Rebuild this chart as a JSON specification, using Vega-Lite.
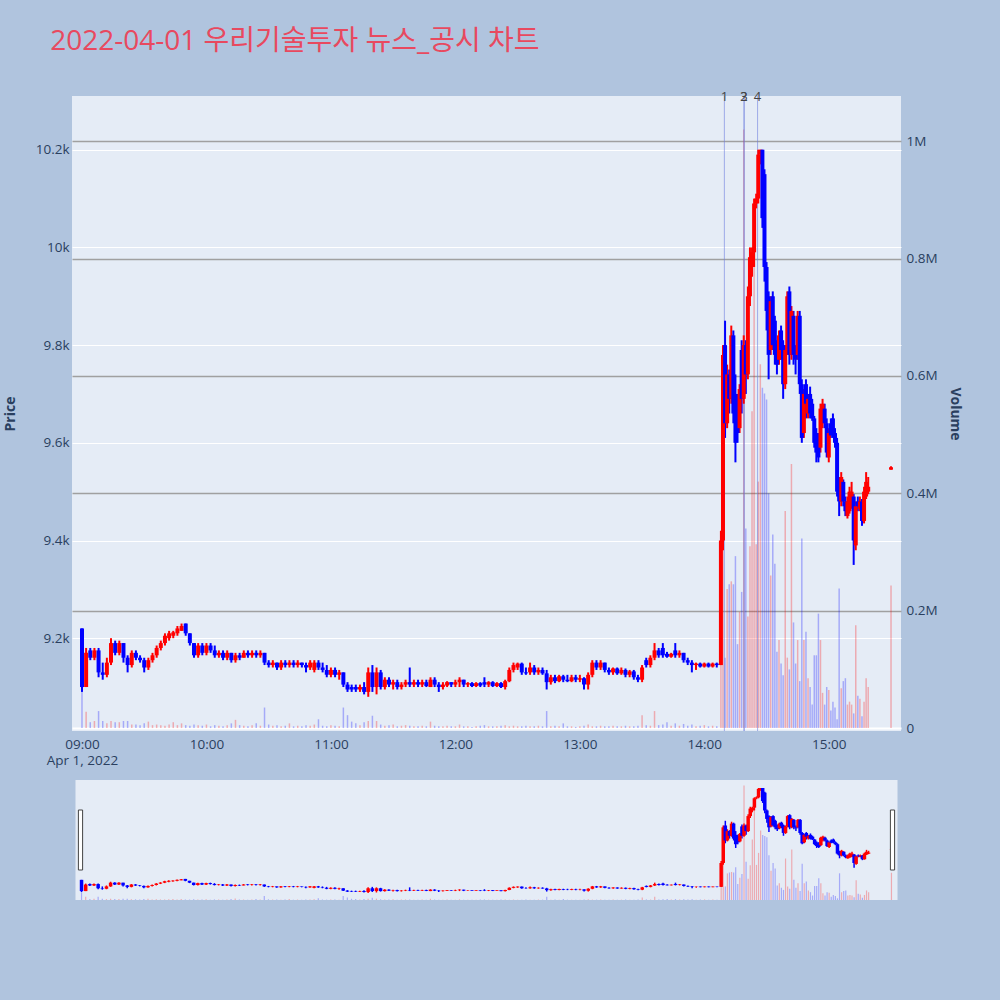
{
  "$schema": "https://vega.github.io/schema/vega-lite/v6.json",
  "background": "#b0c4de",
  "padding": {"left": 3, "top": 28, "right": 40, "bottom": 100},
  "title": {
    "text": "2022-04-01 우리기술투자 뉴스_공시 차트",
    "anchor": "start",
    "fontSize": 28,
    "fontWeight": "normal",
    "color": "#E8495F",
    "font": "Open Sans, Noto Sans CJK KR",
    "offset": 35,
    "dx": 47
  },
  "config": {
    "font": "Open Sans",
    "view": {"fill": "#e5ecf6", "stroke": null},
    "axis": {
      "labelColor": "#2a3f5f",
      "titleColor": "#2a3f5f",
      "labelFontSize": 13.5,
      "titleFontSize": 14,
      "titleFontWeight": "bold",
      "ticks": false,
      "domain": false,
      "labelFont": "Open Sans",
      "titleFont": "Open Sans"
    }
  },
  "datasets": {
    "c": [
      {"t":"2022-04-01T09:00","o":9220,"h":9220,"l":9090,"c":9100,"v":70000},
      {"t":"2022-04-01T09:02","o":9100,"h":9180,"l":9100,"c":9170,"v":28000},
      {"t":"2022-04-01T09:04","o":9175,"h":9180,"l":9155,"c":9160,"v":10000},
      {"t":"2022-04-01T09:06","o":9160,"h":9180,"l":9155,"c":9175,"v":12000},
      {"t":"2022-04-01T09:08","o":9175,"h":9180,"l":9120,"c":9130,"v":29000},
      {"t":"2022-04-01T09:10","o":9130,"h":9150,"l":9115,"c":9125,"v":12000},
      {"t":"2022-04-01T09:12","o":9125,"h":9160,"l":9120,"c":9150,"v":8000},
      {"t":"2022-04-01T09:14","o":9150,"h":9200,"l":9145,"c":9190,"v":12000},
      {"t":"2022-04-01T09:16","o":9190,"h":9195,"l":9165,"c":9170,"v":10000},
      {"t":"2022-04-01T09:18","o":9170,"h":9195,"l":9165,"c":9190,"v":10000},
      {"t":"2022-04-01T09:20","o":9190,"h":9190,"l":9150,"c":9160,"v":12000},
      {"t":"2022-04-01T09:22","o":9160,"h":9165,"l":9130,"c":9145,"v":12000},
      {"t":"2022-04-01T09:24","o":9145,"h":9175,"l":9140,"c":9170,"v":6000},
      {"t":"2022-04-01T09:26","o":9170,"h":9175,"l":9155,"c":9160,"v":6000},
      {"t":"2022-04-01T09:28","o":9160,"h":9165,"l":9150,"c":9155,"v":5000},
      {"t":"2022-04-01T09:30","o":9155,"h":9160,"l":9130,"c":9140,"v":8000},
      {"t":"2022-04-01T09:32","o":9140,"h":9160,"l":9135,"c":9155,"v":11000},
      {"t":"2022-04-01T09:34","o":9155,"h":9170,"l":9150,"c":9165,"v":5000},
      {"t":"2022-04-01T09:36","o":9165,"h":9185,"l":9160,"c":9180,"v":6000},
      {"t":"2022-04-01T09:38","o":9180,"h":9195,"l":9175,"c":9190,"v":5000},
      {"t":"2022-04-01T09:40","o":9190,"h":9210,"l":9185,"c":9205,"v":4000},
      {"t":"2022-04-01T09:42","o":9200,"h":9215,"l":9195,"c":9210,"v":6000},
      {"t":"2022-04-01T09:44","o":9205,"h":9215,"l":9200,"c":9212,"v":10000},
      {"t":"2022-04-01T09:46","o":9210,"h":9225,"l":9205,"c":9220,"v":5000},
      {"t":"2022-04-01T09:48","o":9215,"h":9230,"l":9215,"c":9225,"v":8000},
      {"t":"2022-04-01T09:50","o":9230,"h":9230,"l":9205,"c":9210,"v":5000},
      {"t":"2022-04-01T09:52","o":9210,"h":9210,"l":9185,"c":9190,"v":4000},
      {"t":"2022-04-01T09:54","o":9190,"h":9190,"l":9160,"c":9165,"v":6000},
      {"t":"2022-04-01T09:56","o":9165,"h":9190,"l":9160,"c":9185,"v":5000},
      {"t":"2022-04-01T09:58","o":9185,"h":9190,"l":9165,"c":9170,"v":4000},
      {"t":"2022-04-01T10:00","o":9170,"h":9190,"l":9165,"c":9185,"v":6000},
      {"t":"2022-04-01T10:02","o":9185,"h":9190,"l":9170,"c":9175,"v":3000},
      {"t":"2022-04-01T10:04","o":9175,"h":9185,"l":9160,"c":9165,"v":5000},
      {"t":"2022-04-01T10:06","o":9165,"h":9175,"l":9160,"c":9170,"v":4000},
      {"t":"2022-04-01T10:08","o":9170,"h":9175,"l":9155,"c":9160,"v":3000},
      {"t":"2022-04-01T10:10","o":9160,"h":9175,"l":9155,"c":9170,"v":5000},
      {"t":"2022-04-01T10:12","o":9170,"h":9170,"l":9150,"c":9155,"v":8000},
      {"t":"2022-04-01T10:14","o":9155,"h":9170,"l":9150,"c":9165,"v":14000},
      {"t":"2022-04-01T10:16","o":9165,"h":9170,"l":9155,"c":9160,"v":5000},
      {"t":"2022-04-01T10:18","o":9160,"h":9175,"l":9160,"c":9170,"v":4000},
      {"t":"2022-04-01T10:20","o":9170,"h":9175,"l":9160,"c":9165,"v":3000},
      {"t":"2022-04-01T10:22","o":9165,"h":9175,"l":9160,"c":9170,"v":5000},
      {"t":"2022-04-01T10:24","o":9170,"h":9175,"l":9160,"c":9165,"v":8000},
      {"t":"2022-04-01T10:26","o":9165,"h":9175,"l":9160,"c":9170,"v":4000},
      {"t":"2022-04-01T10:28","o":9170,"h":9170,"l":9145,"c":9150,"v":35000},
      {"t":"2022-04-01T10:30","o":9150,"h":9155,"l":9140,"c":9145,"v":6000},
      {"t":"2022-04-01T10:32","o":9145,"h":9155,"l":9140,"c":9150,"v":4000},
      {"t":"2022-04-01T10:34","o":9150,"h":9150,"l":9135,"c":9140,"v":5000},
      {"t":"2022-04-01T10:36","o":9140,"h":9155,"l":9135,"c":9150,"v":3000},
      {"t":"2022-04-01T10:38","o":9150,"h":9155,"l":9140,"c":9145,"v":4000},
      {"t":"2022-04-01T10:40","o":9145,"h":9155,"l":9140,"c":9150,"v":8000},
      {"t":"2022-04-01T10:42","o":9150,"h":9155,"l":9140,"c":9145,"v":3000},
      {"t":"2022-04-01T10:44","o":9145,"h":9155,"l":9140,"c":9150,"v":4000},
      {"t":"2022-04-01T10:46","o":9150,"h":9150,"l":9140,"c":9145,"v":3000},
      {"t":"2022-04-01T10:48","o":9145,"h":9150,"l":9130,"c":9140,"v":5000},
      {"t":"2022-04-01T10:50","o":9140,"h":9155,"l":9135,"c":9150,"v":4000},
      {"t":"2022-04-01T10:52","o":9135,"h":9155,"l":9130,"c":9150,"v":6000},
      {"t":"2022-04-01T10:54","o":9150,"h":9155,"l":9135,"c":9140,"v":15000},
      {"t":"2022-04-01T10:56","o":9140,"h":9150,"l":9130,"c":9135,"v":4000},
      {"t":"2022-04-01T10:58","o":9135,"h":9145,"l":9120,"c":9125,"v":3000},
      {"t":"2022-04-01T11:00","o":9125,"h":9140,"l":9120,"c":9135,"v":5000},
      {"t":"2022-04-01T11:02","o":9135,"h":9140,"l":9120,"c":9125,"v":4000},
      {"t":"2022-04-01T11:04","o":9125,"h":9135,"l":9115,"c":9130,"v":3000},
      {"t":"2022-04-01T11:06","o":9130,"h":9130,"l":9100,"c":9105,"v":35000},
      {"t":"2022-04-01T11:08","o":9105,"h":9110,"l":9090,"c":9095,"v":22000},
      {"t":"2022-04-01T11:10","o":9100,"h":9105,"l":9090,"c":9095,"v":11000},
      {"t":"2022-04-01T11:12","o":9100,"h":9105,"l":9090,"c":9095,"v":8000},
      {"t":"2022-04-01T11:14","o":9095,"h":9105,"l":9090,"c":9100,"v":5000},
      {"t":"2022-04-01T11:16","o":9100,"h":9110,"l":9085,"c":9090,"v":10000},
      {"t":"2022-04-01T11:18","o":9090,"h":9140,"l":9080,"c":9130,"v":12000},
      {"t":"2022-04-01T11:20","o":9130,"h":9145,"l":9090,"c":9100,"v":21000},
      {"t":"2022-04-01T11:22","o":9100,"h":9140,"l":9085,"c":9130,"v":12000},
      {"t":"2022-04-01T11:24","o":9130,"h":9135,"l":9095,"c":9100,"v":6000},
      {"t":"2022-04-01T11:26","o":9100,"h":9120,"l":9095,"c":9115,"v":4000},
      {"t":"2022-04-01T11:28","o":9115,"h":9120,"l":9100,"c":9105,"v":5000},
      {"t":"2022-04-01T11:30","o":9105,"h":9115,"l":9095,"c":9110,"v":6000},
      {"t":"2022-04-01T11:32","o":9110,"h":9115,"l":9095,"c":9100,"v":3000},
      {"t":"2022-04-01T11:34","o":9100,"h":9110,"l":9095,"c":9105,"v":4000},
      {"t":"2022-04-01T11:36","o":9105,"h":9115,"l":9100,"c":9110,"v":5000},
      {"t":"2022-04-01T11:38","o":9110,"h":9140,"l":9100,"c":9105,"v":4000},
      {"t":"2022-04-01T11:40","o":9105,"h":9115,"l":9100,"c":9110,"v":3000},
      {"t":"2022-04-01T11:42","o":9110,"h":9115,"l":9100,"c":9105,"v":3000},
      {"t":"2022-04-01T11:44","o":9105,"h":9115,"l":9100,"c":9110,"v":4000},
      {"t":"2022-04-01T11:46","o":9110,"h":9115,"l":9100,"c":9102,"v":3000},
      {"t":"2022-04-01T11:48","o":9100,"h":9120,"l":9100,"c":9115,"v":11000},
      {"t":"2022-04-01T11:50","o":9115,"h":9120,"l":9100,"c":9105,"v":4000},
      {"t":"2022-04-01T11:52","o":9105,"h":9110,"l":9090,"c":9100,"v":3000},
      {"t":"2022-04-01T11:54","o":9100,"h":9110,"l":9095,"c":9105,"v":3000},
      {"t":"2022-04-01T11:56","o":9103,"h":9112,"l":9100,"c":9110,"v":4000},
      {"t":"2022-04-01T11:58","o":9110,"h":9110,"l":9100,"c":9105,"v":3000},
      {"t":"2022-04-01T12:00","o":9105,"h":9115,"l":9100,"c":9110,"v":3000},
      {"t":"2022-04-01T12:02","o":9110,"h":9120,"l":9100,"c":9115,"v":6000},
      {"t":"2022-04-01T12:04","o":9115,"h":9115,"l":9100,"c":9105,"v":3000},
      {"t":"2022-04-01T12:06","o":9105,"h":9110,"l":9100,"c":9108,"v":3000},
      {"t":"2022-04-01T12:08","o":9108,"h":9110,"l":9100,"c":9102,"v":2000},
      {"t":"2022-04-01T12:10","o":9102,"h":9110,"l":9100,"c":9108,"v":3000},
      {"t":"2022-04-01T12:12","o":9108,"h":9110,"l":9100,"c":9103,"v":4000},
      {"t":"2022-04-01T12:14","o":9110,"h":9120,"l":9100,"c":9105,"v":5000},
      {"t":"2022-04-01T12:16","o":9105,"h":9112,"l":9100,"c":9110,"v":3000},
      {"t":"2022-04-01T12:18","o":9110,"h":9112,"l":9100,"c":9102,"v":3000},
      {"t":"2022-04-01T12:20","o":9102,"h":9110,"l":9100,"c":9108,"v":3000},
      {"t":"2022-04-01T12:22","o":9108,"h":9110,"l":9098,"c":9100,"v":4000},
      {"t":"2022-04-01T12:24","o":9100,"h":9115,"l":9095,"c":9112,"v":5000},
      {"t":"2022-04-01T12:26","o":9112,"h":9140,"l":9110,"c":9135,"v":3000},
      {"t":"2022-04-01T12:28","o":9135,"h":9150,"l":9130,"c":9145,"v":4000},
      {"t":"2022-04-01T12:30","o":9140,"h":9150,"l":9135,"c":9148,"v":3000},
      {"t":"2022-04-01T12:32","o":9148,"h":9150,"l":9125,"c":9130,"v":3000},
      {"t":"2022-04-01T12:34","o":9130,"h":9140,"l":9125,"c":9128,"v":4000},
      {"t":"2022-04-01T12:36","o":9130,"h":9150,"l":9125,"c":9140,"v":3000},
      {"t":"2022-04-01T12:38","o":9140,"h":9145,"l":9125,"c":9130,"v":3000},
      {"t":"2022-04-01T12:40","o":9130,"h":9140,"l":9125,"c":9135,"v":4000},
      {"t":"2022-04-01T12:42","o":9135,"h":9140,"l":9125,"c":9128,"v":3000},
      {"t":"2022-04-01T12:44","o":9128,"h":9135,"l":9095,"c":9110,"v":29000},
      {"t":"2022-04-01T12:46","o":9110,"h":9125,"l":9105,"c":9120,"v":3000},
      {"t":"2022-04-01T12:48","o":9120,"h":9125,"l":9108,"c":9112,"v":4000},
      {"t":"2022-04-01T12:50","o":9112,"h":9125,"l":9110,"c":9122,"v":3000},
      {"t":"2022-04-01T12:52","o":9122,"h":9125,"l":9110,"c":9115,"v":8000},
      {"t":"2022-04-01T12:54","o":9115,"h":9125,"l":9110,"c":9112,"v":3000},
      {"t":"2022-04-01T12:56","o":9112,"h":9125,"l":9110,"c":9120,"v":3000},
      {"t":"2022-04-01T12:58","o":9120,"h":9125,"l":9110,"c":9115,"v":2000},
      {"t":"2022-04-01T13:00","o":9115,"h":9125,"l":9110,"c":9118,"v":3000},
      {"t":"2022-04-01T13:02","o":9118,"h":9120,"l":9095,"c":9105,"v":4000},
      {"t":"2022-04-01T13:04","o":9105,"h":9130,"l":9095,"c":9125,"v":6000},
      {"t":"2022-04-01T13:06","o":9125,"h":9155,"l":9120,"c":9150,"v":3000},
      {"t":"2022-04-01T13:08","o":9150,"h":9155,"l":9135,"c":9140,"v":3000},
      {"t":"2022-04-01T13:10","o":9140,"h":9155,"l":9135,"c":9150,"v":4000},
      {"t":"2022-04-01T13:12","o":9150,"h":9150,"l":9130,"c":9135,"v":3000},
      {"t":"2022-04-01T13:14","o":9135,"h":9140,"l":9125,"c":9130,"v":3000},
      {"t":"2022-04-01T13:16","o":9130,"h":9140,"l":9125,"c":9138,"v":4000},
      {"t":"2022-04-01T13:18","o":9138,"h":9140,"l":9125,"c":9128,"v":3000},
      {"t":"2022-04-01T13:20","o":9128,"h":9140,"l":9125,"c":9135,"v":3000},
      {"t":"2022-04-01T13:22","o":9135,"h":9138,"l":9120,"c":9125,"v":4000},
      {"t":"2022-04-01T13:24","o":9125,"h":9135,"l":9120,"c":9132,"v":3000},
      {"t":"2022-04-01T13:26","o":9132,"h":9135,"l":9115,"c":9120,"v":3000},
      {"t":"2022-04-01T13:28","o":9120,"h":9125,"l":9110,"c":9115,"v":4000},
      {"t":"2022-04-01T13:30","o":9115,"h":9145,"l":9110,"c":9140,"v":22000},
      {"t":"2022-04-01T13:32","o":9155,"h":9160,"l":9140,"c":9145,"v":5000},
      {"t":"2022-04-01T13:34","o":9145,"h":9165,"l":9140,"c":9160,"v":4000},
      {"t":"2022-04-01T13:36","o":9160,"h":9190,"l":9155,"c":9175,"v":29000},
      {"t":"2022-04-01T13:38","o":9175,"h":9180,"l":9160,"c":9165,"v":5000},
      {"t":"2022-04-01T13:40","o":9180,"h":9190,"l":9160,"c":9165,"v":6000},
      {"t":"2022-04-01T13:42","o":9168,"h":9172,"l":9160,"c":9162,"v":10000},
      {"t":"2022-04-01T13:44","o":9162,"h":9170,"l":9160,"c":9168,"v":4000},
      {"t":"2022-04-01T13:46","o":9175,"h":9190,"l":9160,"c":9165,"v":8000},
      {"t":"2022-04-01T13:48","o":9165,"h":9175,"l":9160,"c":9170,"v":4000},
      {"t":"2022-04-01T13:50","o":9170,"h":9170,"l":9150,"c":9155,"v":7000},
      {"t":"2022-04-01T13:52","o":9155,"h":9160,"l":9145,"c":9150,"v":4000},
      {"t":"2022-04-01T13:54","o":9150,"h":9155,"l":9130,"c":9145,"v":6000},
      {"t":"2022-04-01T13:56","o":9145,"h":9150,"l":9135,"c":9148,"v":3000},
      {"t":"2022-04-01T13:58","o":9148,"h":9150,"l":9140,"c":9142,"v":4000},
      {"t":"2022-04-01T14:00","o":9142,"h":9150,"l":9140,"c":9148,"v":5000},
      {"t":"2022-04-01T14:02","o":9148,"h":9150,"l":9140,"c":9142,"v":3000},
      {"t":"2022-04-01T14:04","o":9142,"h":9150,"l":9140,"c":9148,"v":4000},
      {"t":"2022-04-01T14:06","o":9148,"h":9150,"l":9140,"c":9145,"v":3000},
      {"t":"2022-04-01T14:08","o":9145,"h":9420,"l":9145,"c":9400,"v":300000},
      {"t":"2022-04-01T14:09","o":9400,"h":9800,"l":9380,"c":9780,"v":460000},
      {"t":"2022-04-01T14:10","o":9800,"h":9850,"l":9610,"c":9640,"v":120000},
      {"t":"2022-04-01T14:11","o":9640,"h":9760,"l":9630,"c":9740,"v":237000},
      {"t":"2022-04-01T14:12","o":9740,"h":9750,"l":9660,"c":9690,"v":245000},
      {"t":"2022-04-01T14:13","o":9690,"h":9840,"l":9680,"c":9820,"v":250000},
      {"t":"2022-04-01T14:14","o":9820,"h":9830,"l":9640,"c":9660,"v":245000},
      {"t":"2022-04-01T14:15","o":9700,"h":9740,"l":9560,"c":9600,"v":293000},
      {"t":"2022-04-01T14:16","o":9690,"h":9700,"l":9600,"c":9620,"v":143000},
      {"t":"2022-04-01T14:17","o":9630,"h":9720,"l":9620,"c":9710,"v":198000},
      {"t":"2022-04-01T14:18","o":9790,"h":9810,"l":9660,"c":9690,"v":232000},
      {"t":"2022-04-01T14:19","o":9690,"h":9820,"l":9680,"c":9800,"v":1020000},
      {"t":"2022-04-01T14:20","o":9800,"h":9810,"l":9700,"c":9740,"v":340000},
      {"t":"2022-04-01T14:21","o":9740,"h":9920,"l":9730,"c":9900,"v":190000},
      {"t":"2022-04-01T14:22","o":9900,"h":10000,"l":9880,"c":9980,"v":310000},
      {"t":"2022-04-01T14:23","o":9960,"h":10000,"l":9940,"c":9990,"v":540000},
      {"t":"2022-04-01T14:24","o":9990,"h":10100,"l":9960,"c":10090,"v":800000},
      {"t":"2022-04-01T14:25","o":10090,"h":10110,"l":10080,"c":10100,"v":313000},
      {"t":"2022-04-01T14:26","o":10100,"h":10200,"l":10090,"c":10190,"v":420000},
      {"t":"2022-04-01T14:27","o":10190,"h":10200,"l":10170,"c":10200,"v":620000},
      {"t":"2022-04-01T14:28","o":10200,"h":10200,"l":10040,"c":10060,"v":580000},
      {"t":"2022-04-01T14:29","o":10150,"h":10160,"l":9930,"c":9960,"v":570000},
      {"t":"2022-04-01T14:30","o":9960,"h":9970,"l":9830,"c":9870,"v":560000},
      {"t":"2022-04-01T14:31","o":9900,"h":9910,"l":9730,"c":9780,"v":400000},
      {"t":"2022-04-01T14:32","o":9790,"h":9900,"l":9780,"c":9890,"v":260000},
      {"t":"2022-04-01T14:33","o":9900,"h":9910,"l":9790,"c":9800,"v":330000},
      {"t":"2022-04-01T14:34","o":9850,"h":9860,"l":9760,"c":9780,"v":280000},
      {"t":"2022-04-01T14:35","o":9800,"h":9810,"l":9740,"c":9760,"v":130000},
      {"t":"2022-04-01T14:36","o":9770,"h":9830,"l":9760,"c":9820,"v":150000},
      {"t":"2022-04-01T14:37","o":9830,"h":9840,"l":9770,"c":9790,"v":110000},
      {"t":"2022-04-01T14:38","o":9800,"h":9810,"l":9690,"c":9720,"v":90000},
      {"t":"2022-04-01T14:39","o":9720,"h":9800,"l":9710,"c":9790,"v":370000},
      {"t":"2022-04-01T14:40","o":9790,"h":9910,"l":9780,"c":9900,"v":120000},
      {"t":"2022-04-01T14:41","o":9910,"h":9920,"l":9760,"c":9780,"v":100000},
      {"t":"2022-04-01T14:42","o":9780,"h":9880,"l":9770,"c":9870,"v":450000},
      {"t":"2022-04-01T14:43","o":9860,"h":9870,"l":9760,"c":9780,"v":180000},
      {"t":"2022-04-01T14:44","o":9780,"h":9800,"l":9740,"c":9770,"v":110000},
      {"t":"2022-04-01T14:45","o":9780,"h":9870,"l":9770,"c":9860,"v":150000},
      {"t":"2022-04-01T14:46","o":9860,"h":9870,"l":9700,"c":9720,"v":80000},
      {"t":"2022-04-01T14:47","o":9720,"h":9730,"l":9600,"c":9610,"v":323000},
      {"t":"2022-04-01T14:48","o":9620,"h":9710,"l":9610,"c":9700,"v":150000},
      {"t":"2022-04-01T14:49","o":9720,"h":9730,"l":9650,"c":9680,"v":164000},
      {"t":"2022-04-01T14:50","o":9660,"h":9700,"l":9650,"c":9690,"v":85000},
      {"t":"2022-04-01T14:51","o":9700,"h":9715,"l":9650,"c":9660,"v":70000},
      {"t":"2022-04-01T14:52","o":9680,"h":9690,"l":9645,"c":9650,"v":40000},
      {"t":"2022-04-01T14:53","o":9650,"h":9655,"l":9590,"c":9600,"v":124000},
      {"t":"2022-04-01T14:54","o":9620,"h":9630,"l":9560,"c":9580,"v":124000},
      {"t":"2022-04-01T14:55","o":9600,"h":9620,"l":9560,"c":9570,"v":195000},
      {"t":"2022-04-01T14:56","o":9590,"h":9680,"l":9580,"c":9670,"v":150000},
      {"t":"2022-04-01T14:57","o":9640,"h":9690,"l":9630,"c":9680,"v":60000},
      {"t":"2022-04-01T14:58","o":9670,"h":9680,"l":9630,"c":9640,"v":40000},
      {"t":"2022-04-01T14:59","o":9640,"h":9650,"l":9570,"c":9580,"v":70000},
      {"t":"2022-04-01T15:00","o":9570,"h":9630,"l":9560,"c":9620,"v":65000},
      {"t":"2022-04-01T15:01","o":9640,"h":9650,"l":9610,"c":9615,"v":30000},
      {"t":"2022-04-01T15:02","o":9650,"h":9660,"l":9610,"c":9620,"v":45000},
      {"t":"2022-04-01T15:03","o":9620,"h":9630,"l":9590,"c":9600,"v":35000},
      {"t":"2022-04-01T15:04","o":9600,"h":9610,"l":9490,"c":9500,"v":15000},
      {"t":"2022-04-01T15:05","o":9520,"h":9530,"l":9450,"c":9480,"v":238000},
      {"t":"2022-04-01T15:06","o":9480,"h":9540,"l":9470,"c":9530,"v":68000},
      {"t":"2022-04-01T15:07","o":9520,"h":9525,"l":9470,"c":9480,"v":80000},
      {"t":"2022-04-01T15:08","o":9480,"h":9490,"l":9450,"c":9460,"v":85000},
      {"t":"2022-04-01T15:09","o":9450,"h":9490,"l":9445,"c":9480,"v":40000},
      {"t":"2022-04-01T15:10","o":9460,"h":9510,"l":9455,"c":9500,"v":45000},
      {"t":"2022-04-01T15:11","o":9470,"h":9520,"l":9465,"c":9500,"v":40000},
      {"t":"2022-04-01T15:12","o":9490,"h":9495,"l":9350,"c":9400,"v":25000},
      {"t":"2022-04-01T15:13","o":9390,"h":9480,"l":9380,"c":9470,"v":175000},
      {"t":"2022-04-01T15:14","o":9480,"h":9490,"l":9460,"c":9470,"v":55000},
      {"t":"2022-04-01T15:15","o":9465,"h":9490,"l":9460,"c":9480,"v":50000},
      {"t":"2022-04-01T15:16","o":9480,"h":9485,"l":9430,"c":9440,"v":20000},
      {"t":"2022-04-01T15:17","o":9440,"h":9510,"l":9435,"c":9500,"v":45000},
      {"t":"2022-04-01T15:18","o":9490,"h":9540,"l":9485,"c":9520,"v":85000},
      {"t":"2022-04-01T15:19","o":9500,"h":9530,"l":9495,"c":9510,"v":70000},
      {"t":"2022-04-01T15:30","o":9545,"h":9552,"l":9545,"c":9550,"v":243000}
    ],
    "news": [
      {"t":"2022-04-01T14:09:40","n":"1"},
      {"t":"2022-04-01T14:19:10","n":"2"},
      {"t":"2022-04-01T14:19:10","n":"3"},
      {"t":"2022-04-01T14:25:40","n":"4"}
    ],
    "handles": [
      {"t":"2022-04-01T08:59:30","p":9645},
      {"t":"2022-04-01T15:30:30","p":9645}
    ]
  },
  "vconcat": [
    {
      "width": 829,
      "height": 635,
      "encoding": {
        "x": {
          "field": "t",
          "type": "temporal",
          "title": null,
          "scale": {"domain": [
            {"year": 2022, "month": 4, "date": 1, "hours": 8, "minutes": 57, "seconds": 36},
            {"year": 2022, "month": 4, "date": 1, "hours": 15, "minutes": 32, "seconds": 24}
          ]},
          "axis": {
            "grid": false,
            "labelPadding": 6,
            "labelLineHeight": 16.5,
            "values": [
              {"year": 2022, "month": 4, "date": 1, "hours": 9},
              {"year": 2022, "month": 4, "date": 1, "hours": 10},
              {"year": 2022, "month": 4, "date": 1, "hours": 11},
              {"year": 2022, "month": 4, "date": 1, "hours": 12},
              {"year": 2022, "month": 4, "date": 1, "hours": 13},
              {"year": 2022, "month": 4, "date": 1, "hours": 14},
              {"year": 2022, "month": 4, "date": 1, "hours": 15}
            ],
            "labelExpr": "hours(datum.value) == 9 ? ['09:00', 'Apr 1, 2022'] : timeFormat(datum.value, '%H:%M')"
          }
        }
      },
      "layer": [
        {
          "data": {"name": "c"},
          "mark": {"type": "bar", "size": 1.5, "opacity": 0.28},
          "encoding": {
            "y": {
              "field": "v",
              "type": "quantitative",
              "scale": {"domain": [-5000, 1077000], "nice": false, "zero": false},
              "axis": {
                "orient": "right",
                "title": "Volume",
                "values": [0, 200000, 400000, 600000, 800000, 1000000],
                "labelExpr": "datum.value == 0 ? '0' : format(datum.value / 1000000, '~g') + 'M'",
                "labelPadding": 5,
                "titlePadding": 10,
                "grid": true,
                "gridColor": {"condition": {"test": "datum.value == 0", "value": "#ffffff"}, "value": "#a0a0a0"},
                "gridWidth": {"condition": {"test": "datum.value == 0", "value": 2}, "value": 1.5}
              }
            },
            "color": {"condition": {"test": "datum.c >= datum.o", "value": "#ff0000"}, "value": "#0000ff"}
          }
        },
        {
          "layer": [
            {
              "data": {"name": "news"},
              "mark": {"type": "rule", "color": "#6f7fe0", "opacity": 0.6, "strokeWidth": 1},
              "encoding": {}
            },
            {
              "data": {"name": "c"},
              "mark": {"type": "rule", "strokeWidth": 2},
              "encoding": {
                "y": {
                  "field": "l",
                  "type": "quantitative",
                  "scale": {"domain": [9010, 10310], "nice": false, "zero": false},
                  "axis": {
                    "title": "Price",
                    "values": [9200, 9400, 9600, 9800, 10000, 10200],
                    "format": "~s",
                    "labelPadding": 3,
                    "titlePadding": 18,
                    "grid": true,
                    "gridColor": "#ffffff",
                    "gridWidth": 1
                  }
                },
                "y2": {"field": "h"},
                "color": {"condition": {"test": "datum.c >= datum.o", "value": "#ff0000"}, "value": "#0000ff"}
              }
            },
            {
              "data": {"name": "c"},
              "mark": {"type": "bar", "size": 4},
              "encoding": {
                "y": {"field": "o", "type": "quantitative", "title": "Price"},
                "y2": {"field": "c"},
                "color": {"condition": {"test": "datum.c >= datum.o", "value": "#ff0000"}, "value": "#0000ff"}
              }
            },
            {
              "data": {"name": "news"},
              "mark": {"type": "text", "baseline": "middle", "dy": 1, "fontSize": 13, "color": "#444444"},
              "encoding": {
                "y": {"datum": 10310, "type": "quantitative"},
                "text": {"field": "n"}
              }
            }
          ]
        }
      ],
      "resolve": {"scale": {"y": "independent"}, "axis": {"y": "independent"}}
    },
    {
      "width": 822,
      "height": 120,
      "encoding": {
        "x": {
          "field": "t",
          "type": "temporal",
          "axis": null,
          "scale": {"domain": [
            {"year": 2022, "month": 4, "date": 1, "hours": 8, "minutes": 59, "seconds": 30},
            {"year": 2022, "month": 4, "date": 1, "hours": 15, "minutes": 30, "seconds": 30}
          ]}
        }
      },
      "layer": [
        {
          "data": {"name": "c"},
          "mark": {"type": "bar", "size": 1.2, "opacity": 0.28},
          "encoding": {
            "y": {
              "field": "v",
              "type": "quantitative",
              "axis": null,
              "scale": {"domain": [0, 1070000], "nice": false}
            },
            "color": {"condition": {"test": "datum.c >= datum.o", "value": "#ff0000"}, "value": "#0000ff"}
          }
        },
        {
          "layer": [
            {
              "data": {"name": "c"},
              "mark": {"type": "rule", "strokeWidth": 1.5},
              "encoding": {
                "y": {
                  "field": "l",
                  "type": "quantitative",
                  "axis": null,
                  "scale": {"domain": [9005, 10285], "nice": false, "zero": false}
                },
                "y2": {"field": "h"},
                "color": {"condition": {"test": "datum.c >= datum.o", "value": "#ff0000"}, "value": "#0000ff"}
              }
            },
            {
              "data": {"name": "c"},
              "mark": {"type": "bar", "size": 3.5},
              "encoding": {
                "y": {"field": "o", "type": "quantitative", "axis": null},
                "y2": {"field": "c"},
                "color": {"condition": {"test": "datum.c >= datum.o", "value": "#ff0000"}, "value": "#0000ff"}
              }
            },
            {
              "data": {"name": "handles"},
              "mark": {
                "type": "point",
                "shape": "M-0.07,-1H0.07V1H-0.07Z",
                "size": 3600,
                "filled": true,
                "fill": "#ffffff",
                "stroke": "#444444",
                "strokeWidth": 1,
                "opacity": 1
              },
              "encoding": {
                "y": {"field": "p", "type": "quantitative", "axis": null}
              }
            }
          ]
        }
      ],
      "resolve": {"scale": {"y": "independent"}}
    }
  ],
  "spacing": 49,
  "bounds": "flush",
  "center": true,
  "resolve": {"scale": {"x": "independent", "y": "independent"}}
}
